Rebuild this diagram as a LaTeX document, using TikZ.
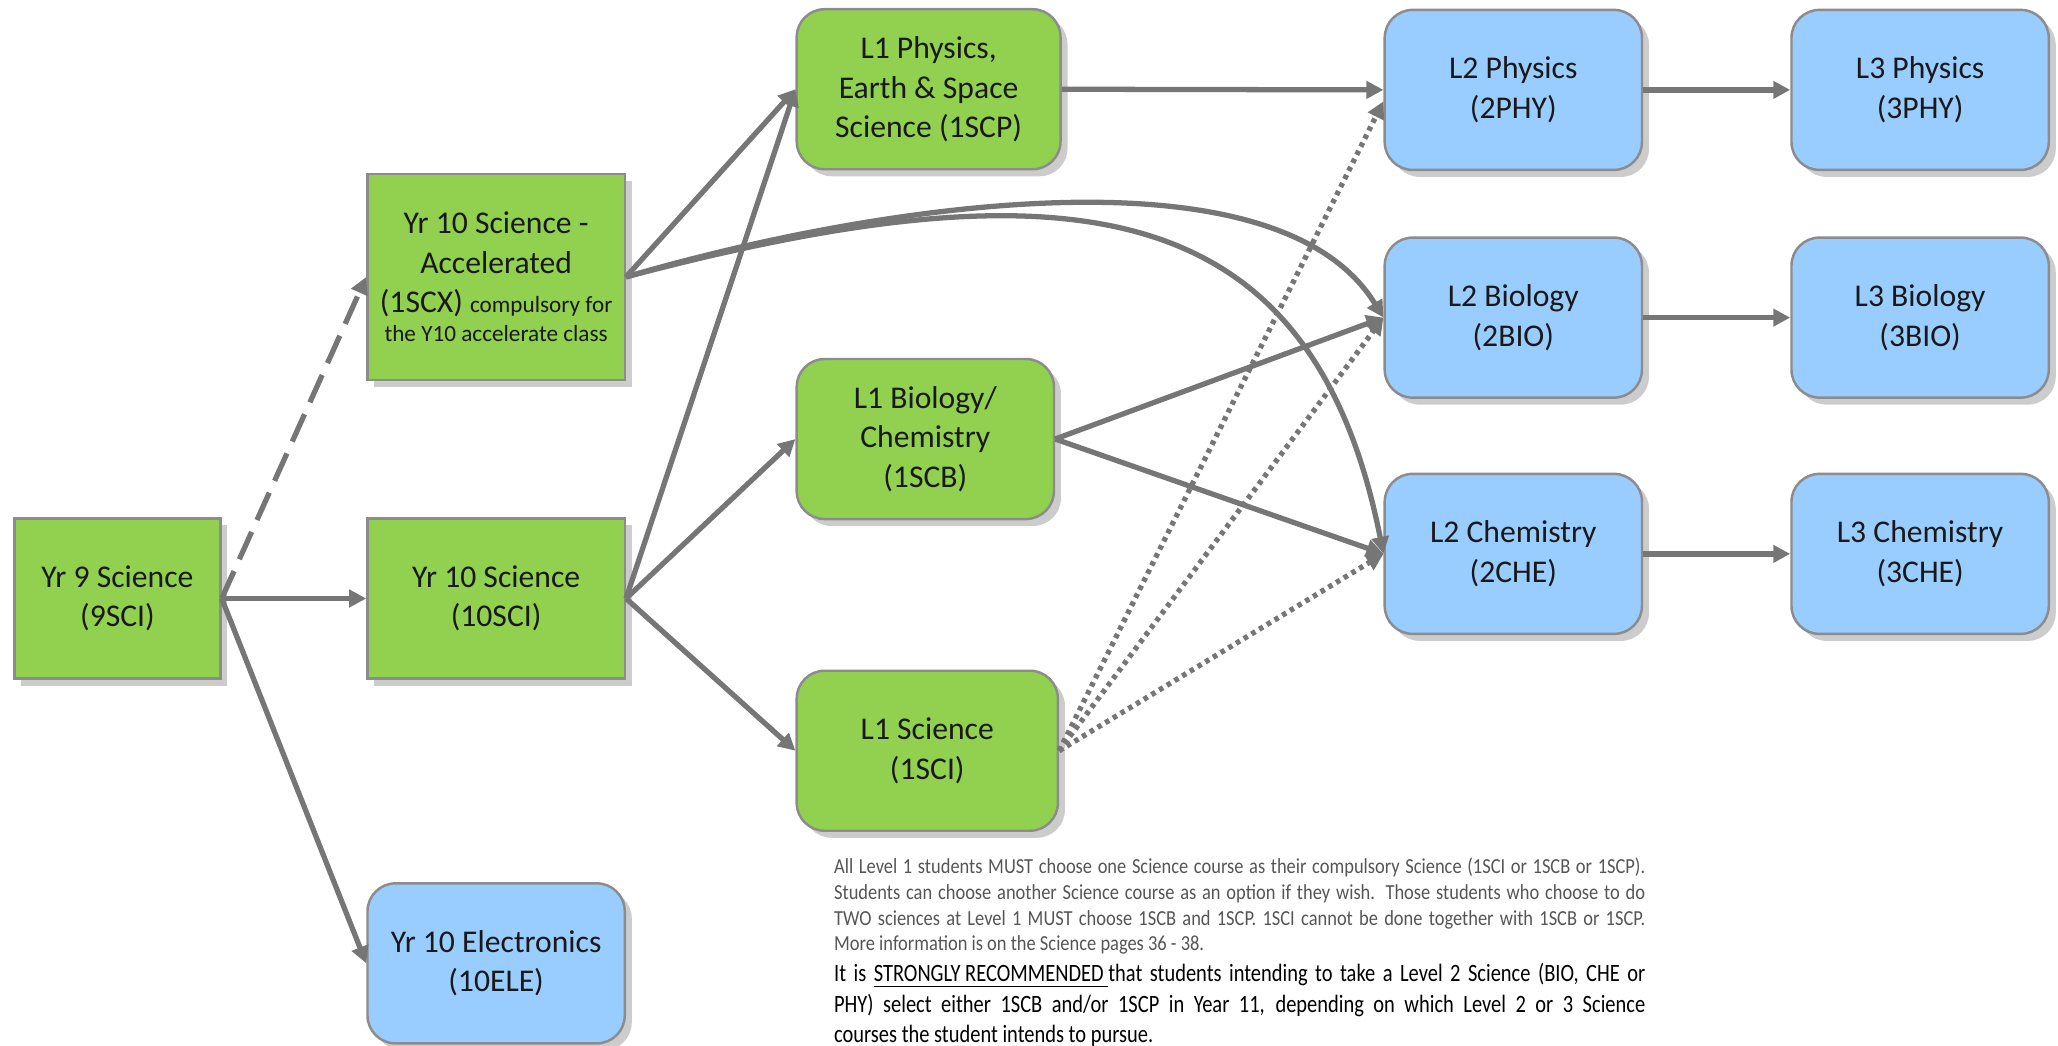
\documentclass[tikz,border=0pt]{standalone}
\usepackage{fontspec}
\setmainfont{Carlito}
\newfontfamily\notefont[FakeStretch=0.86]{Carlito}
\newfontfamily\advicefont[FakeStretch=0.82]{Carlito}
\usetikzlibrary{arrows.meta,positioning,shadows}

\definecolor{coursegreen}{RGB}{146,208,80}
\definecolor{courseblue}{RGB}{153,204,255}
\definecolor{boxline}{RGB}{140,140,140}
\definecolor{linkgray}{RGB}{118,118,118}
\definecolor{notegray}{RGB}{85,85,85}

\begin{document}
\begin{tikzpicture}[
  x=0.013125cm, y=-0.013125cm,
  font=\fontsize{9}{11.2}\selectfont,
  >={Triangle[length=0.17cm, width=0.17cm]},
  % common look of every course box
  course/.style={
    draw=boxline, line width=0.7pt,
    align=center, inner sep=2pt, text=black!90,
    minimum width=2.5725cm, minimum height=1.6cm,
    drop shadow={shadow xshift=0.07cm, shadow yshift=-0.07cm,
      fill=black!20, opacity=1}
  },
  squarebox/.style={course, fill=coursegreen},
  greenround/.style={course, fill=coursegreen, rounded corners=0.28cm},
  blueround/.style={course, fill=courseblue, rounded corners=0.28cm},
  edge/.style={->, draw=linkgray, line width=1.5pt},
  maybe/.style={edge, dash pattern=on 0.3cm off 0.13cm},
  option/.style={edge, dash pattern=on 0.045cm off 0.045cm}
]
\useasboundingbox (0,0) rectangle (1568,796.2);

% Year 9 and Year 10
\node[squarebox, minimum width=2.06cm] (sci9) at (89.5,456) {Yr 9 Science\\(9SCI)};
\node[squarebox, minimum height=2.06cm] (scx1) at (378,211)
{Yr 10 Science -\\Accelerated\\(1SCX) {\fontsize{6.6}{8}\selectfont compulsory for}\\[-3pt]
 {\fontsize{6.6}{8}\selectfont the Y10 accelerate class}};
\node[squarebox] (sci10) at (378,456) {Yr 10 Science\\(10SCI)};
\node[blueround] (ele10) at (378,734) {Yr 10 Electronics\\(10ELE)};

% Level 1
\node[greenround, minimum width=2.638cm] (scp1) at (707.5,68)
{L1 Physics,\\Earth \& Space\\Science (1SCP)};
\node[greenround] (scb1) at (705,334.5) {L1 Biology/\\Chemistry\\(1SCB)};
\node[greenround, minimum width=2.612cm] (sci1) at (706.5,572) {L1 Science\\(1SCI)};

% Level 2
\node[blueround] (phy2) at (1153,68.5) {L2 Physics\\(2PHY)};
\node[blueround] (bio2) at (1153,242) {L2 Biology\\(2BIO)};
\node[blueround] (che2) at (1153,422) {L2 Chemistry\\(2CHE)};

% Level 3
\node[blueround, right=1.47cm of phy2] (phy3) {L3 Physics\\(3PHY)};
\node[blueround, right=1.47cm of bio2] (bio3) {L3 Biology\\(3BIO)};
\node[blueround, right=1.47cm of che2] (che3) {L3 Chemistry\\(3CHE)};

% Note below the chart
\node[anchor=north west, text width=8.11cm, align=justify, inner sep=0pt] (note) at (635,653)
{{\notefont\fontsize{6.1}{7.35}\selectfont\color{notegray}%
All Level 1 students MUST choose one Science course as their compulsory Science (1SCI or 1SCB or 1SCP).\linebreak
Students can choose another Science course as an option if they wish. Those students who choose to do\linebreak
TWO sciences at Level 1 MUST choose 1SCB and 1SCP. 1SCI cannot be done together with 1SCB or 1SCP.\linebreak
More information is on the Science pages 36 - 38.\par}%
{\advicefont\fontsize{7.1}{8.7}\selectfont\hyphenpenalty=10000
It is \underline{STRONGLY RECOMMENDED\ }that students intending to take a Level 2 Science (BIO, CHE or\linebreak
PHY) select either 1SCB and/or 1SCP in Year 11, depending on which Level 2 or 3 Science\linebreak
courses the student intends to pursue.\par}};

% Edges
\draw[maybe] (sci9.east) -- (scx1.west);
\draw[edge] (sci9.east) -- (sci10.west);
\draw[edge] (sci9.east) -- (ele10.west);

\draw[edge] (scx1.east) -- (scp1.west);
\draw[edge] (scx1.east) .. controls (650,160) and (970,105) .. (bio2.west);
\draw[edge] (scx1.east) .. controls (820,120) and (1000,150) .. (che2.west);

\draw[edge] (sci10.east) -- (scp1.west);
\draw[edge] (sci10.east) -- (scb1.west);
\draw[edge] (sci10.east) -- (sci1.west);

\draw[edge] (scp1.east) -- (phy2.west);
\draw[edge] (scb1.east) -- (bio2.west);
\draw[edge] (scb1.east) -- (che2.west);
\draw[option] (sci1.east) -- (phy2.185);
\draw[option] (sci1.east) -- (bio2.west);
\draw[option] (sci1.east) -- (che2.west);

\draw[edge] (phy2) -- (phy3);
\draw[edge] (bio2) -- (bio3);
\draw[edge] (che2) -- (che3);

\end{tikzpicture}
\end{document}
